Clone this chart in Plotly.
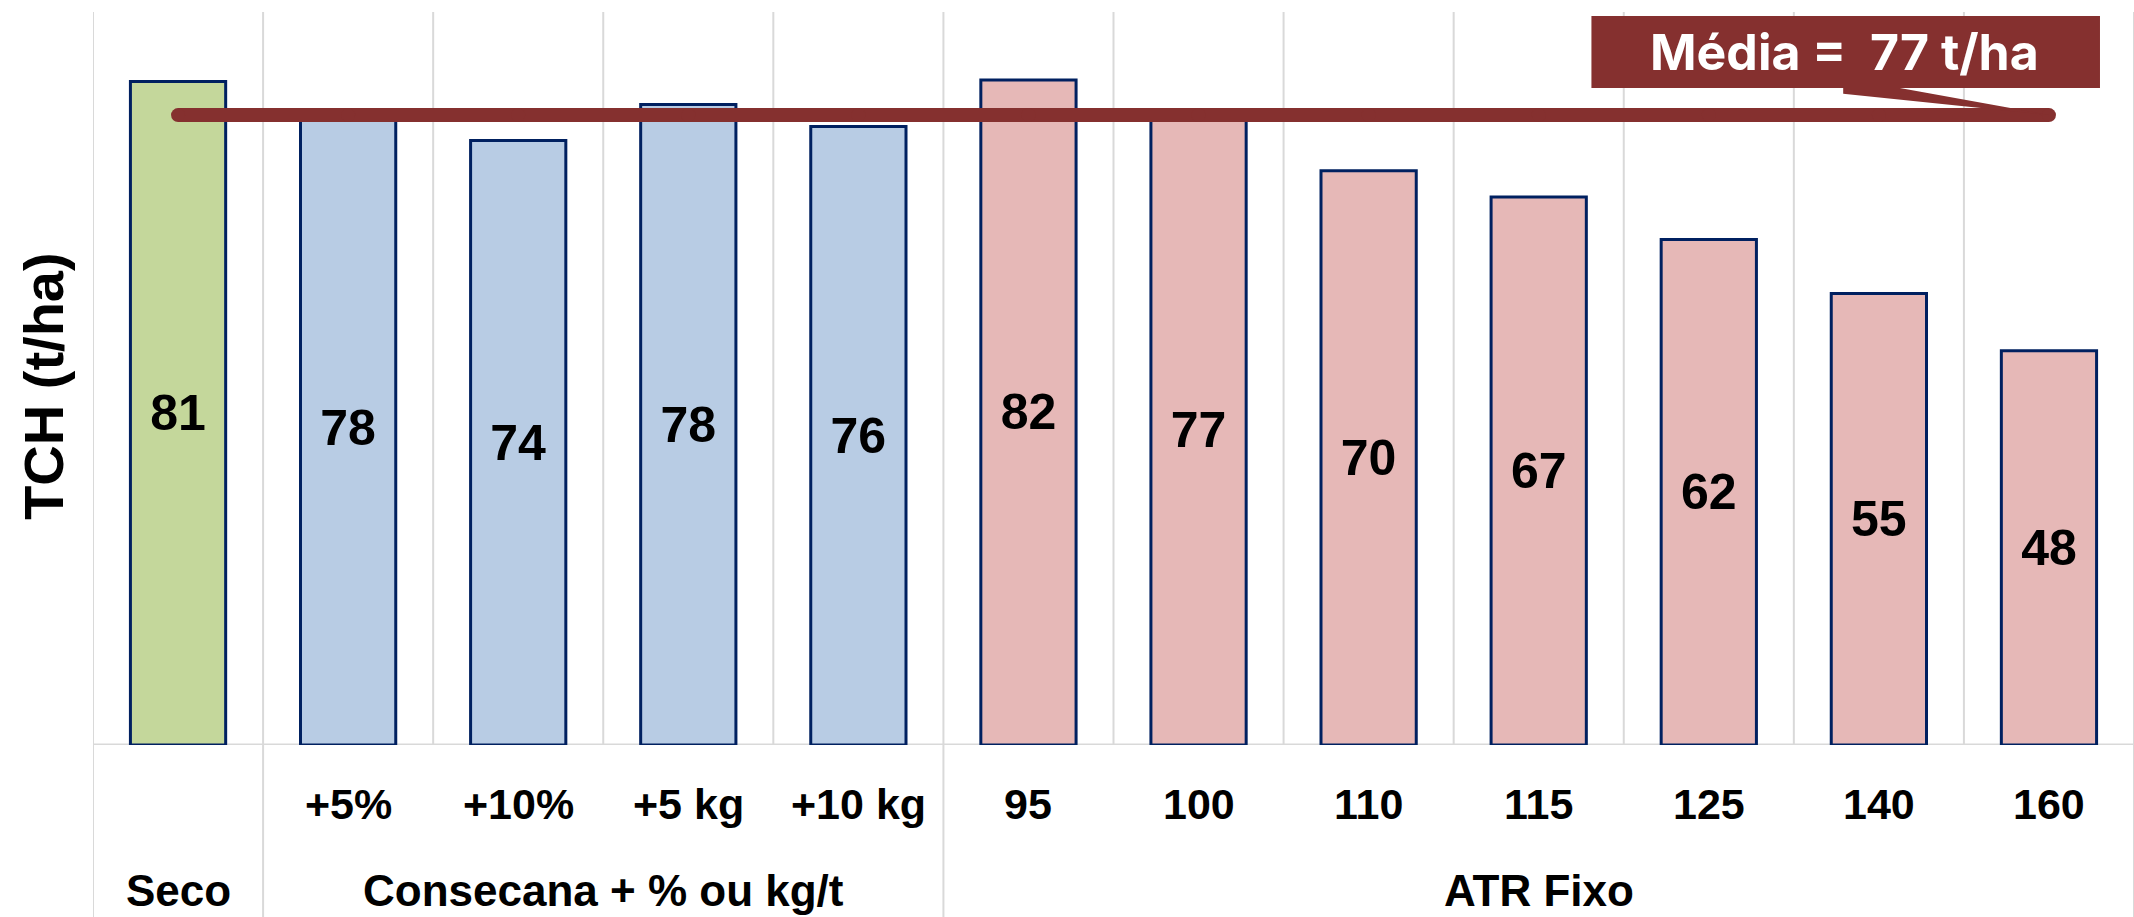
import plotly.graph_objects as go

categorias = ["Seco", "+5%", "+10%", "+5 kg", "+10 kg", "95", "100", "110", "115", "125", "140", "160"]
# alturas lidas das barras; rotulos como aparecem no grafico
tch = [81.1, 77.6, 73.9, 78.3, 75.6, 81.3, 77.0, 70.2, 67.0, 61.8, 55.2, 48.2]
rotulos = ["81", "78", "74", "78", "76", "82", "77", "70", "67", "62", "55", "48"]
cores = ["#C4D79B"] + ["#B8CCE4"] * 4 + ["#E6B8B7"] * 7
grupos = ["Seco", "Consecana + % ou kg/t", "ATR Fixo"]
grupo_inicio = [0, 1, 5]
grupo_fim = [0, 4, 11]
sub_labels = ["", "+5%", "+10%", "+5 kg", "+10 kg", "95", "100", "110", "115", "125", "140", "160"]
media = 77

x = list(range(len(categorias)))
vermelho = "#85302F"
cinza = "#D9D9D9"
fonte = "Liberation Sans, Arial, sans-serif"

fig = go.Figure()

fig.add_trace(go.Bar(
    x=x, y=tch,
    marker=dict(color=cores, line=dict(color="#002060", width=3)),
    text=rotulos,
    textposition="inside", insidetextanchor="middle", textangle=0,
    textfont=dict(family=fonte, size=50, color="black", weight="bold"),
    showlegend=False, hoverinfo="skip",
))

# linha da media (com "pontas redondas" via marcadores)
fig.add_trace(go.Scatter(
    x=x, y=[media] * len(x), mode="lines+markers",
    line=dict(color=vermelho, width=14),
    marker=dict(color=vermelho, size=14),
    showlegend=False, hoverinfo="skip",
))

shapes = []
# linhas de grade verticais nos limites das categorias
limites_grupo = [s - 0.5 for s in grupo_inicio] + [len(x) - 0.5]
for i in range(len(x) + 1):
    b = i - 0.5
    y0 = -0.235 if b in limites_grupo else 0
    shapes.append(dict(type="line", xref="x", yref="paper", x0=b, x1=b, y0=y0, y1=1,
                       line=dict(color=cinza, width=2), layer="below"))
# linha base
shapes.append(dict(type="line", xref="x", yref="y", x0=-0.5, x1=len(x) - 0.5, y0=0, y1=0,
                   line=dict(color=cinza, width=3), layer="below"))

# caixa da media com ponteiro
shapes.append(dict(type="path", xref="x", yref="y",
                   path="M 9.79,80.6 L 9.79,79.6 L %d,%d L 10.05,80.6 Z" % (x[-1], media),
                   fillcolor=vermelho, line=dict(width=0)))
shapes.append(dict(type="rect", xref="x", yref="y", x0=8.31, x1=11.3, y0=80.3, y1=89.1,
                   fillcolor=vermelho, line=dict(width=0)))

annotations = []
for i, lab in enumerate(sub_labels):
    annotations.append(dict(x=i, y=-0.0805, xref="x", yref="paper", text=lab, showarrow=False,
                            xanchor="center", yanchor="middle",
                            font=dict(family=fonte, size=43, color="black", weight="bold")))
for g, a, b in zip(grupos, grupo_inicio, grupo_fim):
    annotations.append(dict(x=(a + b) / 2, y=-0.199, xref="x", yref="paper", text=g, showarrow=False,
                            xanchor="center", yanchor="middle",
                            font=dict(family=fonte, size=44, color="black", weight="bold")))

annotations.append(dict(x=-0.024, y=0.49, xref="paper", yref="paper", text="TCH (t/ha)",
                        textangle=-90, showarrow=False, xanchor="center", yanchor="middle",
                        font=dict(family=fonte, size=56, color="black", weight="bold")))

annotations.append(dict(x=9.8, y=84.7, xref="x", yref="y", text="Média =\u00a0 %d t/ha" % media,
                        showarrow=False, xanchor="center", yanchor="middle",
                        font=dict(family="Inter, Noto Sans, sans-serif", size=50, color="white",
                                  weight="bold")))

fig.update_layout(
    width=2134, height=917,
    margin=dict(l=93, r=0, t=12, b=172),
    plot_bgcolor="white", paper_bgcolor="white",
    bargap=0.44,
    shapes=shapes, annotations=annotations,
    xaxis=dict(range=[-0.5, len(x) - 0.5], showgrid=False, zeroline=False,
               showticklabels=False, ticks=""),
    yaxis=dict(range=[0, 89.6], showgrid=False, zeroline=False,
               showticklabels=False, ticks=""),
)

fig.write_html("out.html", config={"displayModeBar": False},
               post_script="document.body.style.margin='0';")
